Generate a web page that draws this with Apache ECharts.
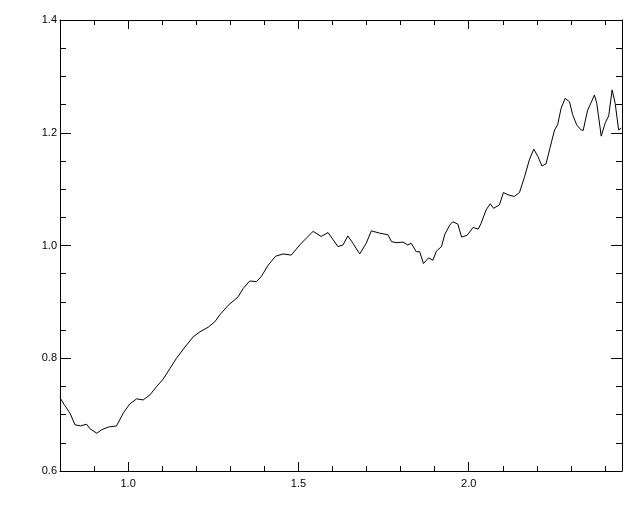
<!DOCTYPE html>
<html>
<head>
<meta charset="utf-8">
<script src="https://cdn.jsdelivr.net/npm/echarts@6/dist/echarts.min.js"></script>
<style>html,body{margin:0;padding:0;background:#fff;}#c{width:640px;height:512px;}</style>
</head>
<body>
<div id="c"></div>
<script>
const xValues = [0.800,0.812,0.829,0.844,0.860,0.878,0.888,0.908,0.922,0.942,0.966,0.986,1.005,1.025,1.044,1.064,1.084,1.103,1.123,1.142,1.167,1.191,1.211,1.235,1.255,1.269,1.294,1.323,1.338,1.357,1.377,1.391,1.411,1.433,1.455,1.479,1.504,1.523,1.543,1.567,1.587,1.616,1.631,1.645,1.660,1.680,1.699,1.714,1.738,1.763,1.773,1.787,1.807,1.821,1.831,1.846,1.856,1.867,1.882,1.895,1.905,1.920,1.930,1.944,1.953,1.968,1.979,1.995,2.013,2.028,2.036,2.051,2.063,2.073,2.090,2.102,2.115,2.134,2.149,2.164,2.178,2.191,2.203,2.215,2.227,2.239,2.252,2.261,2.271,2.283,2.296,2.305,2.317,2.330,2.336,2.349,2.359,2.369,2.376,2.389,2.401,2.411,2.421,2.430,2.440,2.448];
const yValues = [0.730,0.718,0.703,0.682,0.680,0.683,0.675,0.667,0.673,0.678,0.680,0.703,0.719,0.728,0.726,0.735,0.750,0.763,0.782,0.800,0.820,0.838,0.847,0.855,0.865,0.877,0.894,0.909,0.924,0.937,0.936,0.945,0.965,0.981,0.985,0.983,1.001,1.013,1.025,1.016,1.023,0.998,1.001,1.017,1.004,0.985,1.004,1.026,1.022,1.019,1.007,1.005,1.006,1.001,1.004,0.989,0.989,0.968,0.978,0.974,0.990,0.998,1.020,1.036,1.042,1.038,1.015,1.018,1.032,1.029,1.039,1.063,1.074,1.066,1.072,1.094,1.090,1.087,1.094,1.122,1.152,1.171,1.158,1.141,1.145,1.174,1.205,1.214,1.243,1.261,1.255,1.232,1.214,1.205,1.204,1.240,1.253,1.267,1.252,1.194,1.218,1.230,1.276,1.252,1.205,1.208];
const xMajorTicks = [1.0, 1.5, 2.0];
const yTickLabels = ['0.6','0.8','1.0','1.2','1.4'];

const X_MIN = 0.8, X_MAX = 2.45, Y_MIN = 0.6, Y_MAX = 1.4;
const font = {fontFamily: 'Liberation Sans, Arial, sans-serif', fontSize: 11, color: '#000'};
const lineStyle = {color: '#000', width: 1};

function xAxisMajor(pos, labels) {
  return {
    type: 'value', position: pos, min: X_MIN, max: X_MAX,
    axisLine: {show: true, onZero: false, lineStyle: lineStyle},
    axisTick: {show: true, inside: true, length: 9, customValues: xMajorTicks, lineStyle: lineStyle},
    axisLabel: labels ? Object.assign({show: true, margin: 7, customValues: xMajorTicks, formatter: v => v.toFixed(1)}, font) : {show: false},
    splitLine: {show: false}
  };
}
function xAxisMinor(pos) {
  return {
    type: 'value', position: pos, min: X_MIN, max: X_MAX, interval: 0.1,
    axisLine: {show: false, onZero: false},
    axisTick: {show: true, inside: true, length: 5, lineStyle: lineStyle},
    axisLabel: {show: false},
    splitLine: {show: false}
  };
}
function yAxis(pos, labels) {
  return {
    type: 'value', position: pos, min: Y_MIN, max: Y_MAX, interval: 0.2,
    axisLine: {show: true, onZero: false, lineStyle: lineStyle},
    axisTick: {show: true, inside: true, length: 11, lineStyle: lineStyle},
    minorTick: {show: true, splitNumber: 4, length: 6, lineStyle: lineStyle},
    axisLabel: labels ? Object.assign({show: true, margin: 3, formatter: v => { const s = v.toFixed(1); return yTickLabels.includes(s) ? s : ''; }}, font) : {show: false},
    splitLine: {show: false}, minorSplitLine: {show: false}
  };
}

const chart = echarts.init(document.getElementById('c'), null, {renderer: 'canvas'});
chart.setOption({
  animation: false,
  backgroundColor: '#fff',
  grid: {left: 60, right: 18, top: 20, bottom: 41, containLabel: false},
  xAxis: [xAxisMajor('bottom', true), xAxisMajor('top', false), xAxisMinor('bottom'), xAxisMinor('top')],
  yAxis: [yAxis('left', true), yAxis('right', false)],
  series: [{
    type: 'line', xAxisIndex: 0, yAxisIndex: 0,
    data: xValues.map((x, i) => [x, yValues[i]]),
    showSymbol: false, symbol: 'none', smooth: false,
    lineStyle: {color: '#000', width: 1}, clip: true
  }]
});
</script>
</body>
</html>
